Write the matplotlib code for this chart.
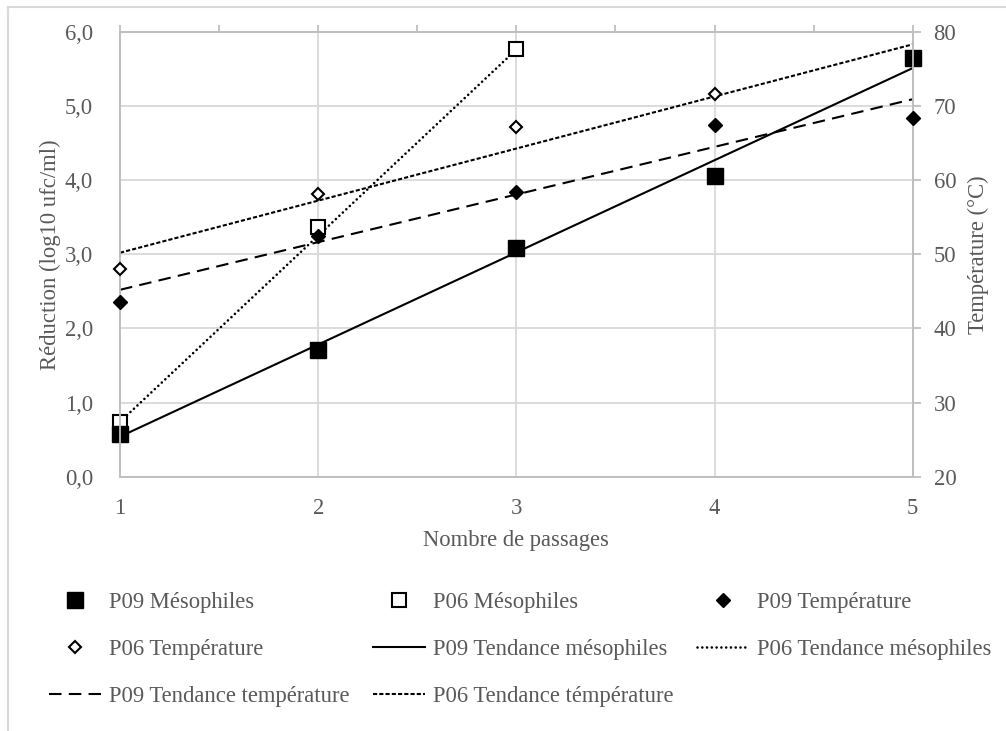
import matplotlib
matplotlib.use("Agg")
import matplotlib.pyplot as plt
from matplotlib.lines import Line2D
from matplotlib.ticker import FuncFormatter, MultipleLocator

# ----------------------------
# Data
# ----------------------------
passages = [1, 2, 3, 4, 5]
p09_meso = [0.58, 1.71, 3.09, 4.05, 5.65]
p06_passages = [1, 2, 3]
p06_meso = [0.74, 3.37, 5.77]
p09_temp = [43.6, 52.4, 58.4, 67.4, 68.3]
p06_temp_passages = [1, 2, 3, 4]
p06_temp = [48.0, 58.1, 67.1, 71.6]

# Trendline end values (as drawn by the spreadsheet)
trend_x = [1, 5]
p09_meso_trend = [0.54, 5.51]
p06_meso_trend_x = [1, 3]
p06_meso_trend = [0.74, 5.76]
p09_temp_trend = [45.2, 70.9]
p06_temp_trend = [50.2, 78.3]

labels = [
    "P09 Mésophiles",
    "P06 Mésophiles",
    "P09 Température",
    "P06 Température",
    "P09 Tendance mésophiles",
    "P06 Tendance mésophiles",
    "P09 Tendance température",
    "P06 Tendance témpérature",
]

TXT = "#595959"
GRID = "#d9d9d9"
SPINE = "#bfbfbf"

plt.rcParams["font.family"] = ["Liberation Serif", "DejaVu Serif"]
plt.rcParams["font.size"] = 16.3

fig = plt.figure(figsize=(10.06, 7.31), dpi=100)
ax = fig.add_axes([0.1193, 0.3479, 0.7880, 0.6087])
ax2 = ax.twinx()

# --- trendlines ---
(l_t1,) = ax.plot(trend_x, p09_meso_trend, color="black", lw=1.5, ls="-")
(l_t2,) = ax.plot(p06_meso_trend_x, p06_meso_trend, color="black", lw=1.9,
                  ls=(0, (0.01, 1.8)), dash_capstyle="round")
(l_t3,) = ax2.plot(trend_x, p09_temp_trend, color="black", lw=1.5, ls=(0, (6, 3.5)))
(l_t4,) = ax2.plot(trend_x, p06_temp_trend, color="black", lw=1.5, ls=(0, (2, 1)))

# --- markers ---
(m1,) = ax.plot(passages, p09_meso, ls="none", marker="s", ms=11.5,
                mfc="black", mec="black", mew=1, clip_on=False, zorder=4)
(m2,) = ax.plot(p06_passages, p06_meso, ls="none", marker="s", ms=10.5,
                mfc="white", mec="black", mew=1.5, clip_on=False, zorder=3)
(m3,) = ax2.plot(passages, p09_temp, ls="none", marker="D", ms=6.8,
                 mfc="black", mec="black", mew=1, clip_on=False, zorder=4)
(m4,) = ax2.plot(p06_temp_passages, p06_temp, ls="none", marker="D", ms=6.3,
                 mfc="white", mec="black", mew=1.5, clip_on=False, zorder=3)

# --- axes ---
ax.set_xlim(1, 5)
ax.set_ylim(0, 6)
ax2.set_ylim(20, 80)
ax.set_xticks(passages)
ax.xaxis.set_minor_locator(MultipleLocator(0.5))
ax.set_yticks([0, 1, 2, 3, 4, 5, 6])
ax2.set_yticks([20, 30, 40, 50, 60, 70, 80])
ax.yaxis.set_major_formatter(FuncFormatter(lambda v, p: f"{v:.1f}".replace(".", ",")))

ax.grid(True, which="major", color=GRID, lw=1.3)
ax.set_axisbelow(True)

for a in (ax, ax2):
    for s in a.spines.values():
        s.set_color(SPINE)
        s.set_linewidth(1.3)

ax.tick_params(axis="x", which="both", bottom=False, top=True, labelbottom=True,
               direction="out", length=5, width=1.3, color=SPINE,
               labelcolor=TXT, pad=10)
ax.tick_params(axis="y", left=False, labelcolor=TXT, pad=16)
ax2.tick_params(axis="y", right=True, direction="out", length=6, width=1.3,
                color=SPINE, labelcolor=TXT, pad=9)

ax.set_xlabel("Nombre de passages", color=TXT, labelpad=8)
ax.set_ylabel("Réduction (log10 ufc/ml)", color=TXT, labelpad=3)
ax2.set_ylabel("Température (°C)", color=TXT, labelpad=8)

# --- legend (row-wise order like the spreadsheet) ---
handles = [m1, m2, m3, m4, l_t1, l_t2, l_t3, l_t4]
order = [0, 3, 6, 1, 4, 7, 2, 5]
fig.legend([handles[i] for i in order], [labels[i] for i in order],
           ncol=3, loc="center", bbox_to_anchor=(0.517, 0.111), frameon=False,
           handlelength=2.3, handletextpad=0.35, columnspacing=1.03,
           labelspacing=1.15, labelcolor=TXT, numpoints=1)

# --- chart area border (top and left edges visible) ---
fig.add_artist(Line2D([8 / 1006, 1], [1 - 7 / 731, 1 - 7 / 731],
                      transform=fig.transFigure, color=GRID, lw=1.5))
fig.add_artist(Line2D([8 / 1006, 8 / 1006], [0, 1 - 7 / 731],
                      transform=fig.transFigure, color=GRID, lw=1.5))

fig.savefig("out.png", dpi=100)
